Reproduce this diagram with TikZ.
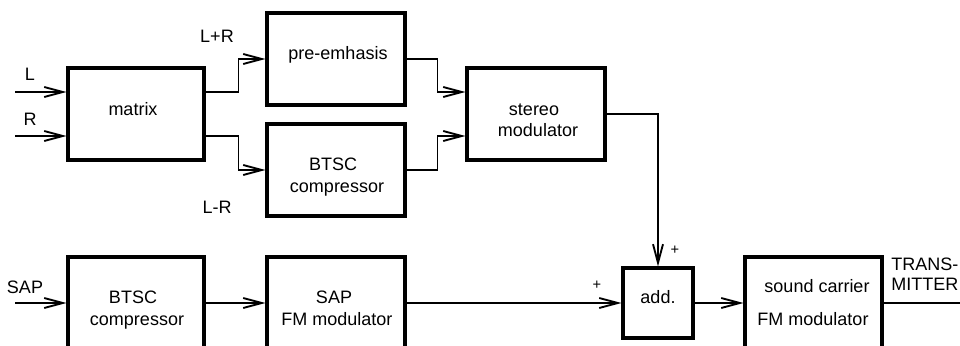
\documentclass[tikz,border=0pt]{standalone}
\usepackage{fontspec}
\setmainfont{Liberation Sans}
\usetikzlibrary{arrows.meta,calc}
\tikzset{
  blk/.style 2 args={draw, line width=2.3pt, inner sep=0pt, minimum width=#1*0.75pt, minimum height=#2*0.75pt},
  arr/.style={line width=1.4pt, -{Straight Barb[length=14pt,width=7.5pt]}},
  wire/.style={line width=1.4pt},
  txt/.style={anchor=base, inner sep=0pt, font=\fontsize{13.5pt}{16pt}\selectfont},
  txtl/.style={anchor=base west, inner sep=0pt, font=\fontsize{13.5pt}{16pt}\selectfont},
  sgn/.style={inner sep=0pt, font=\fontsize{11pt}{13pt}\selectfont},
}
\begin{document}
\begin{tikzpicture}[x=0.75pt,y=-0.75pt]
\useasboundingbox (0,0) rectangle (960,346);
\clip (0,0) rectangle (960,346);
% boxes
\node[blk={136}{92}] (matrix) at (136,114) {};
\node[blk={138}{92}] (pre) at (336,59) {};
\node[blk={138}{92}] (btscA) at (336,170) {};
\node[blk={138}{92}] (stereo) at (536,114) {};
\node[blk={136}{92}] (btscB) at (136,303) {};
\node[blk={138}{92}] (sapfm) at (336,303) {};
\node[blk={70}{70}] (add) at (658,303) {};
\node[blk={137}{92}] (snd) at (813.5,303) {};
% box texts
\node[txt] (tmatrix) at (133,115) {matrix};
\node[txt] (tpre) at (338,60) {pre-emhasis};
\node[txt] (tbtscA1) at (333,170) {BTSC};
\node[txt] (tbtscA2) at (337,192) {compressor};
\node[txt] (tstereo1) at (534,115) {stereo};
\node[txt] (tstereo2) at (538,137) {modulator};
\node[txt] (tbtscB1) at (133,303) {BTSC};
\node[txt] (tbtscB2) at (137,325) {compressor};
\node[txt] (tsap1) at (334,303) {SAP};
\node[txt] (tsap2) at (337,325) {FM modulator};
\node[txt] (tadd) at (658,303) {add.};
\node[txt] (tsnd1) at (817,292) {sound carrier};
\node[txt] (tsnd2) at (813,325) {FM modulator};
% free labels
\node[txt] (lL) at (30,80) {L};
\node[txt] (lR) at (30,125) {R};
\node[txt] (lLpR) at (217,43) {L+R};
\node[txt] (lLmR) at (217,213) {L-R};
\node[txt] (lSAP) at (25,293) {SAP};
\node[sgn] (pTop) at (675,250) {+};
\node[sgn] (pLeft) at (597,285) {+};
\node[txtl] (lT1) at (891,270) {TRANS-};
\node[txtl] (lT2) at (891,290) {MITTER};
% inputs
\coordinate (Lin) at (15,92);
\coordinate (Rin) at (15,136);
\coordinate (SAPin) at (15,303);
\coordinate (out) at (965,303);
% connectors
\draw[arr] (Lin) -- (Lin -| matrix.west);
\draw[arr] (Rin) -- (Rin -| matrix.west);
\draw[arr] (matrix.east |- Lin) -- ++(33,0) |- (pre.west);
\draw[arr] (matrix.east |- Rin) -- ++(33,0) |- (btscA.west);
\draw[arr] (pre.east) -- ++(31,0) |- (stereo.west |- Lin);
\draw[arr] (btscA.east) -- ++(31,0) |- (stereo.west |- Rin);
\draw[arr] (stereo.east) -| (add.north);
\draw[arr] (SAPin) -- (btscB.west);
\draw[arr] (btscB.east) -- (sapfm.west);
\draw[arr] (sapfm.east) -- (add.west);
\draw[arr] (add.east) -- (snd.west);
\draw[wire] (snd.east) -- (out);
\end{tikzpicture}
\end{document}
